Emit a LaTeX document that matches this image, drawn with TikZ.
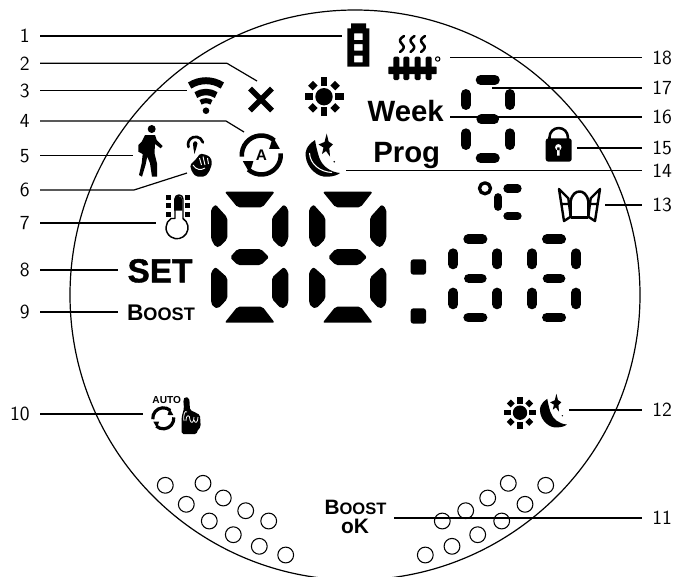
\documentclass[tikz,border=0pt]{standalone}
\usepackage{fontspec}
\setmainfont{Liberation Sans}
\newfontfamily\heavyfont[FakeBold=1.2]{Liberation Sans Bold}
\tikzset{
	conn/.style={line width=0.9pt,line cap=butt},
	lab/.style={font=\sffamily\fontsize{15}{15}\selectfont,inner sep=7.5pt},
	txt/.style={font=\bfseries,inner sep=0pt,anchor=base},
	smallseg/.style={line width=7.3pt,line cap=round},
}
\def\moonshape{(315,140) .. controls (306,146) and (305,152) .. (305.7,156) .. controls (306.5,168) and (318,178) .. (328,176.7) .. controls (333,176.5) and (338,175) .. (340,173) .. controls (330,172) and (322,166) .. (319,157) .. controls (317,150) and (316,146) .. (315,140) -- cycle}
\def\moonstar{(326.7,133.5)--(328.6,141.5)--(333,144.5)--(329.3,148)--(330,156.5)--(326,151)--(322,154)--(323.5,147.5)--(318.5,144.5)--(324.5,142)--cycle (334.3,161.7) circle(0.9)}
\begin{document}
\begin{tikzpicture}[x=0.75pt,y=-0.75pt,line join=round]
	\useasboundingbox (0,0) rectangle (693,576);
	\clip (0,0) rectangle (693,576);
	\draw[line width=0.9pt] (355,295) circle(285);
	% nhan trai, nhan phai
	\foreach \i/\y in {1/36,2/63.3,3/90.7,4/121,5/155.7,6/190,7/223,8/270,9/312,10/414}
		\node[lab,anchor=east] (n\i) at (40,\y) {\i};
	\foreach \i/\y in {11/518,12/410,13/205,14/170.7,15/148,16/117,17/88,18/57.7}
		\node[lab,anchor=west] (n\i) at (642,\y) {\i};
	% dau day
	\foreach \i/\x/\y in {1/342/36,2/257/81,3/187/90.7,4/244/132,5/133/155.7,6/187/173,7/156/223,8/118/270,9/118/312,10/143/414,
		11/394/518,12/569/410,13/605/205,14/346/170.7,15/577/148,16/450/117,17/492/88,18/450/57.7}
		\coordinate (c\i) at (\x,\y);
	\coordinate (b2) at (227,63.3);
	\coordinate (b4) at (226,121);
	\coordinate (b6) at (134,190);
	\foreach \i in {1,3,5,7,8,9,10} \draw[conn] (n\i.east)--(c\i);
	\foreach \i in {2,4,6} \draw[conn] (n\i.east)--(b\i)--(c\i);
	\foreach \i in {11,...,18} \draw[conn] (c\i)--(n\i.west);
	% pin
	\fill[even odd rule] (351,23.3) rectangle (366,28.3) (347.3,28.3) rectangle (369.3,66.7)
		(354,33.3) rectangle (362.7,40) (354,44) rectangle (362.7,50.7) (354,55.7) rectangle (362.7,62.3);
	% dau X
	\draw[line width=4.2pt,line cap=butt] (250,88.5)--(272,110.5) (272,88.5)--(250,110.5);
	% wifi
	\fill (206,110.7) circle(3.3);
	\draw[line width=5.2pt,line cap=butt] (-123:30)++(206,110.7) arc(-123:-57:30);
	\draw[line width=4.8pt,line cap=butt] (-123:18.7)++(206,110.7) arc(-123:-57:18.7);
	\draw[line width=3.8pt,line cap=butt] (-123:10)++(206,110.7) arc(-123:-57:10);
	% mat troi
	\foreach \cx/\cy/\s in {324/96.7/1,520/412.7/0.83}{
		\begin{scope}[shift={(\cx,\cy)},scale=\s]
			\fill (0,0) circle(8.7);
			\foreach \a in {0,90,180,270} \fill[rotate=\a] (10.7,-3.3) rectangle (19.5,3.3);
			\foreach \a in {45,135,225,315} \fill[rotate=\a] (12.5,-3.4) rectangle (19,3.4);
		\end{scope}
	}
	% mat trang
	\fill \moonshape;
	\fill \moonstar;
	\draw[white,line width=0.8pt] (309.5,153) .. controls (310,164) and (320,172) .. (332,172.5);
	\begin{scope}[shift={(301.6,289.6)},scale=0.78]
		\fill \moonshape;
		\fill \moonstar;
	\end{scope}
	% nguoi di bo
	\fill (151.7,129) circle(4);
	\fill (145,135)--(155,135)--(156.7,140)--(162.7,146)--(160.7,148.3)--(155,144)--(154.5,153.3)--(157,163.3)--(157,176.7)--(152,176.7)
		--(150,163.3)--(147.3,156.7)--(145.5,165)--(142,176.7)--(139,175)--(141.7,163.3)--(142.7,154)--(138.3,151.7)--(138.3,145)--(141.7,141.7)--cycle;
	% ban tay cham
	\draw[line width=2pt,line cap=round] (188.5,147) arc(-200:-15:7.6);
	\fill (193,143.5) .. controls (193.5,140.5) and (197,140.5) .. (197.5,143.5) .. controls (197,147) and (195.5,150) .. (194.5,154) .. controls (193.8,150) and (193,147) .. (193,143.5) -- cycle;
	\fill[rounded corners=1.2pt] (190,165)--(192,172)--(196,176.5)--(205,176.5)--(209,172)--(212,164)--(211,158)--(207,155)--(200,153.5)--(197,158)--cycle;
	\draw[white,line width=0.7pt] (203,156.5)--(205,165) (207.5,158)--(208.5,164) (199.5,158)--(201.5,165) (193,165) .. controls (196,170) and (201,170.5) .. (205,168);
	% mui ten vong
	\foreach \cx/\cy/\s/\w in {261.3/155/1/3.4,163.3/418.3/0.54/2.4}{
		\begin{scope}[shift={(\cx,\cy)},scale=\s]
			\foreach \r in {0,180}{
				\begin{scope}[rotate=\r]
					\draw[line width=\w pt,line cap=butt] (-185:19.5) arc(-185:-48:19.5);
					\fill (-18:19.5)--(-57:21.5)--(-38:10)--cycle;
				\end{scope}
			}
		\end{scope}
	}
	\node[txt,font=\bfseries\fontsize{11.5}{11.5}\selectfont] (letterA) at (261.3,160.5) {A};
	% tan nhiet
	\foreach \x in {0,10.5,21}
		\draw[line width=1.9pt,line cap=round] (404+\x,36) .. controls (399+\x,39) and (399+\x,41) .. (402+\x,44) .. controls (405+\x,47) and (404+\x,49) .. (400+\x,52);
	\foreach \x in {393.3,403.3,414.7,425.7}
		\fill[rounded corners=1pt] (\x,56.7) rectangle (\x+6,80);
	\fill[rounded corners=0.5pt] (388.3,66.7) rectangle (436.7,74);
	\draw[line width=0.8pt] (437.7,59) circle(2.2);
	% chu
	\node[txt,font=\bfseries\fontsize{22}{22}\selectfont] (week) at (405.7,121.7) {Week};
	\node[txt,font=\bfseries\fontsize{22}{22}\selectfont] (prog) at (406.7,162.7) {Prog};
	\node[txt,font=\heavyfont\fontsize{25}{25}\selectfont] (set) at (160,282.3) {SET};
	\node[txt,font=\bfseries\fontsize{17}{17}\selectfont] (boost) at (161,320) {B{\fontsize{13.6}{13.6}\selectfont OOST}};
	\node[txt,font=\bfseries\fontsize{15.6}{15.6}\selectfont] (boostok) at (355.5,514) {B{\fontsize{12.4}{12.4}\selectfont OOST}};
	\node[txt,font=\bfseries\fontsize{15.7}{15.7}\selectfont] (ok) at (355,533.3) {oK};
	\node[txt,font=\bfseries\fontsize{7.6}{7.6}\selectfont] (auto) at (166.7,403.3) {AUTO};
	% so nho
	\foreach \dx/\dy in {0/0,78.7/0,12.4/-159.3}{
		\begin{scope}[shift={(\dx,\dy)}]
			\draw[smallseg] (468.2,239.2)--(482.5,239.2) (468.9,278.5)--(481.8,278.5) (468.2,317.5)--(482.5,317.5);
			\draw[smallseg] (453.3,253.2)--(453.3,264.4) (497.3,253.2)--(497.3,264.4) (453.3,292.5)--(453.3,304.4) (497.3,292.5)--(497.3,304.4);
		\end{scope}
	}
	% so lon
	\foreach \dx in {0,98}{
		\begin{scope}[shift={(\dx,0)},rounded corners=1.5pt]
			\fill (224.7,191.7)--(274.7,191.7)--(262.5,207.3)--(237.5,207.3)--cycle;
			\fill (224.7,322.7)--(274.7,322.7)--(262.5,306.7)--(237.5,306.7)--cycle;
			\fill (230,257.3)--(237.5,249)--(261,249)--(269,257.3)--(261,265)--(237.5,265)--cycle;
			\fill (211,209)--(215.5,204.5)--(227.3,217.5)--(227.3,239)--(219.5,247)--(215.5,247)--(211,239)--cycle;
			\fill (288.3,209)--(283.8,204.5)--(272,217.5)--(272,239)--(279.8,247)--(283.8,247)--(288.3,239)--cycle;
			\fill (215.5,267)--(227.3,277.5)--(227.3,299)--(218.3,308.5)--(213.3,307)--(211,302.5)--(211,272)--cycle;
			\fill (283.8,267)--(272,277.5)--(272,299)--(281,308.5)--(286,307)--(288.3,302.5)--(288.3,272)--cycle;
		\end{scope}
	}
	\fill[rounded corners=2pt] (410.7,259.3) rectangle (426,274.7) (410.7,308.3) rectangle (426,323.7);
	% do C
	\draw[line width=2.5pt] (485,188.3) circle(5.5);
	\draw[line width=6.2pt,line cap=round] (507.5,188.5)--(517.5,188.5) (498,197.3)--(498,206.7) (507.5,216)--(517.5,216);
	% cua so
	\draw[line width=1.8pt] (559,189)--(564,221)--(570.7,216.7)--(568.3,198.3)--cycle (561.5,204)--(569.3,204);
	\draw[line width=1.8pt] (600,189)--(595,221)--(588.3,216.7)--(590.7,198.3)--cycle (597.5,204)--(589.7,204);
	\draw[line width=1.9pt] (570.7,218)--(570.7,201) .. controls (572,194) and (576,191.5) .. (579.5,191.5) .. controls (583,191.5) and (587,194) .. (588.3,201)--(588.3,218);
	\draw[line width=2.5pt] (570.7,217.5)--(588.3,217.5);
	% khoa
	\draw[line width=1.9pt] (549.5,140)--(549.5,137.2) arc(-180:0:9.2)--(567.9,140);
	\fill[rounded corners=2pt] (545.7,138.3) rectangle (571.7,161.7);
	\fill[white] (558.3,147.3) circle(3.2) (557,147.3) rectangle (559.6,155.7);
	% nhiet ke
	\draw[line width=1.1pt,fill=white] (175,218.5)--(175,199) arc(-180:0:4)--(183,218.5) arc(-57:237:11) -- cycle;
	\fill (174,200) arc(-180:0:4.15)--(182.3,210.7)--(174,210.7)--cycle;
	\foreach \x in {166,185} \foreach \y in {195,203.3,211.7}
		\fill (\x,\y) rectangle (\x+5,\y+5);
	% tay den
	\fill[rounded corners=1.2pt] (185,396.7)--(189.3,398.3)--(190,410)--(195,412.3)--(200,415)--(200.7,426.7)--(196.7,431.7)--(196.7,434)--(181.7,434)--(181.7,416.7)--(184,408.3)--(183.3,400)--cycle;
	\draw[white,line width=0.6pt] (184,421) .. controls (183,414) and (185,410) .. (187,412) (186,421) .. controls (186,414) and (190,414) .. (190,420) (190,420) .. controls (191,424) and (194,423) .. (194,417) (194,420) .. controls (195,424) and (198,423) .. (198,417);
	% vong tron duoi
	\foreach \x/\y in {165.3/485.3,203/483.3,186.3/504.3,223.3/498,245.7/510.7,268.7/521,209.3/521,233.3/534.7,259.3/546.3,285.7/555,
		545.7/485.3,508.3/483.3,525/504.3,487.7/498,465.7/510.7,442.3/521,501.7/521,477.7/534.7,452/546.3,425.3/555}
		\draw[line width=0.8pt] (\x,\y) circle(7.9);
\end{tikzpicture}
\end{document}
